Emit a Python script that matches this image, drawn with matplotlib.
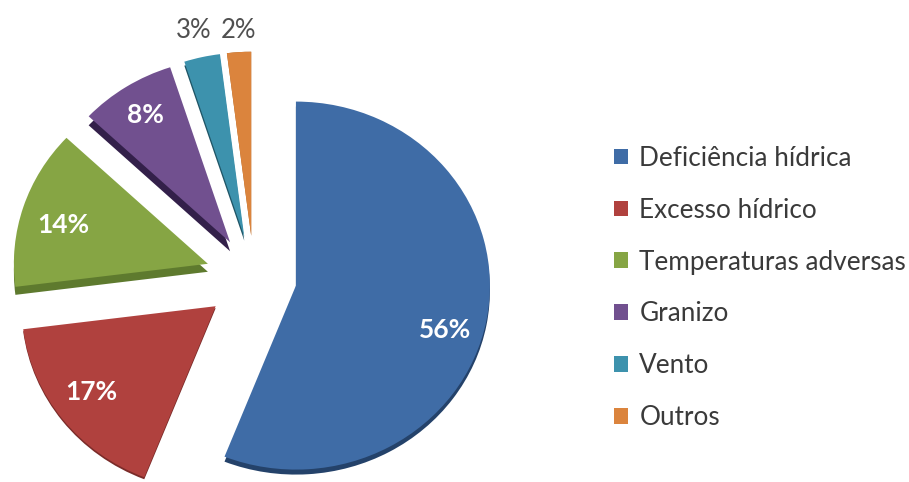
import matplotlib
matplotlib.use("Agg")
import matplotlib.pyplot as plt

W, H = 909, 482

categories = ['Deficiência hídrica', 'Excesso hídrico', 'Temperaturas adversas', 'Granizo', 'Vento', 'Outros']
values = [56, 17, 14, 8, 3, 2]
explode = [0.22, 0.25, 0.25, 0.23, 0.23, 0.23]
colors = ['#3F6CA6', '#B0413E', '#86A544', '#71508F', '#3D92AD', '#DB843D']
rim_colors = ['#24426A', '#7A2B29', '#5E7A2E', '#33204A', '#1F5566', '#A66020']
rim_depth = [5, 2, 8, 9, 4, 0]
labels = ['56%', '17%', '14%', '8%', '3%', '2%']
label_colors = ['white', 'white', 'white', 'white', '#505050', '#505050']
label_px = [(445, 330), (91, 392), (63, 225), (145, 115), (194, 30), (238, 30)]

plt.rcParams['font.family'] = ['Lato', 'DejaVu Sans']

fig = plt.figure(figsize=(W / 100, H / 100), dpi=100)
ax = fig.add_axes([0, 0, 1, 1])

# pie centre in pixels and the radius in x / y, the ellipse gives the tilt
cx, cy, rx, ry = 254, 278, 194, 184

# dark copy lower down makes the rim, each slice has its own depth
rims, _ = ax.pie(values, explode=explode, colors=rim_colors, startangle=90, counterclock=False)
for w, d in zip(rims, rim_depth):
    w.set_center((w.center[0], w.center[1] - d / ry))
wedges, _ = ax.pie(values, explode=explode, colors=colors, startangle=90, counterclock=False)

ax.set_aspect('auto')
ax.set_xlim(-cx / rx, (W - cx) / rx)
ax.set_ylim(-(H - cy) / ry, cy / ry)
ax.axis('off')

for lab, col, (px, py) in zip(labels, label_colors, label_px):
    bold = col == 'white'
    fig.text(px / W, 1 - py / H, lab, color=col, ha='center', va='center',
             fontsize=19 if bold else 18.5, fontweight='bold' if bold else 'normal')

leg = ax.legend(wedges, categories, loc='center left', bbox_to_anchor=(614 / W, 1 - 288 / H),
                bbox_transform=fig.transFigure, frameon=False, fontsize=18.8,
                labelcolor='#3A3A3A', handlelength=0.55, handleheight=0.55, handletextpad=0.42,
                labelspacing=1.03, borderpad=0, borderaxespad=0)

fig.savefig('out.png', dpi=100, facecolor='white')
